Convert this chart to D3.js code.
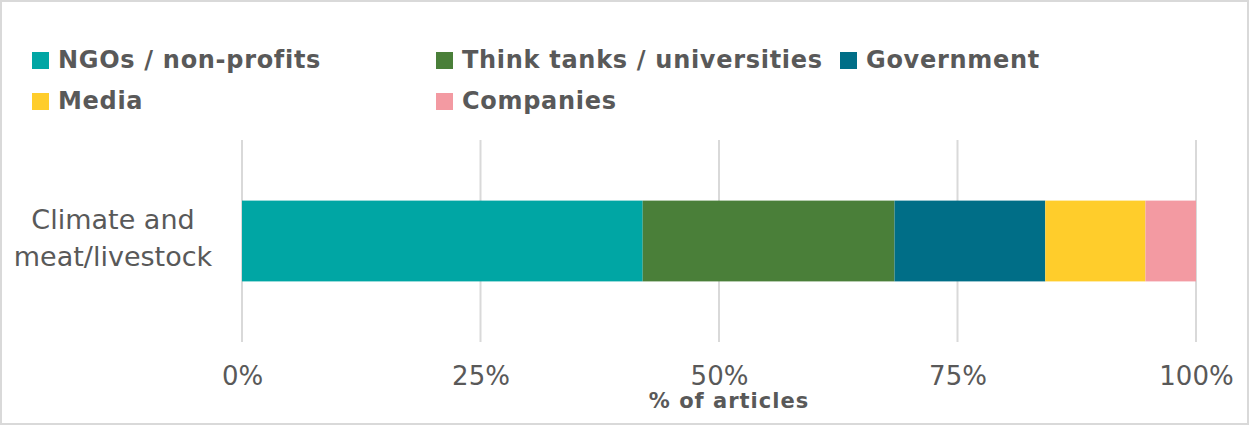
<!DOCTYPE html>
<html>
<head>
<meta charset="utf-8">
<script src="https://cdn.jsdelivr.net/npm/d3@7"></script>
<style>
  body { margin: 0; background: #fff; }
  text { font-family: "DejaVu Sans", "Liberation Sans", Arial, sans-serif; fill: #595959; }
</style>
</head>
<body>
<div id="chart"></div>
<script>
// data
var categories = ["Climate and meat/livestock"];
var seriesNames = ["NGOs / non-profits", "Think tanks / universities", "Government", "Media", "Companies"];
var seriesValues = [42.0, 26.4, 15.8, 10.5, 5.3];
var seriesColors = ["#00a6a4", "#4a7f39", "#006e87", "#ffcd2b", "#f39aa2"];
var tickValues = [0, 25, 50, 75, 100];

var svgWidth = 1250;
var svgHeight = 425;

var svg = d3.select("#chart")
  .append("svg")
  .attr("width", svgWidth)
  .attr("height", svgHeight);

// outer border
svg.append("rect")
  .attr("x", 1).attr("y", 1)
  .attr("width", svgWidth - 3).attr("height", svgHeight - 2)
  .attr("fill", "none")
  .attr("stroke", "#d9d9d9")
  .attr("stroke-width", 2);

var margin = { left: 242, right: 54, top: 140, bottom: 83 };
var width = svgWidth - margin.left - margin.right;
var height = svgHeight - margin.top - margin.bottom;

var chartGroup = svg.append("g")
  .attr("transform", `translate(${margin.left}, ${margin.top})`);

var xScale = d3.scaleLinear().domain([0, 100]).range([0, width]);
var yScale = d3.scaleBand().domain(categories).range([0, height]).paddingInner(0.6).paddingOuter(0.3);

// gridlines
chartGroup.selectAll("line.grid")
  .data(tickValues)
  .enter()
  .append("line")
  .attr("class", "grid")
  .attr("x1", d => xScale(d))
  .attr("x2", d => xScale(d))
  .attr("y1", 0)
  .attr("y2", height)
  .attr("stroke", "#d9d9d9")
  .attr("stroke-width", 2);

// stacked segments
var stackData = [];
var running = 0;
seriesValues.forEach(function (v, i) {
  stackData.push({ name: seriesNames[i], x0: running, x1: running + v, color: seriesColors[i] });
  running += v;
});

chartGroup.selectAll("rect.seg")
  .data(stackData)
  .enter()
  .append("rect")
  .attr("class", "seg")
  .attr("x", d => xScale(d.x0))
  .attr("width", d => xScale(d.x1) - xScale(d.x0))
  .attr("y", yScale(categories[0]))
  .attr("height", yScale.bandwidth())
  .attr("fill", d => d.color);

// x axis tick labels
var bottomAxis = d3.axisBottom(xScale)
  .tickValues(tickValues)
  .tickSize(0)
  .tickPadding(25)
  .tickFormat(d => d + "%");

var xAxis = chartGroup.append("g")
  .attr("transform", `translate(0, ${height})`)
  .call(bottomAxis);
xAxis.select(".domain").remove();
xAxis.selectAll("text")
  .style("font-family", "'DejaVu Sans', sans-serif")
  .style("font-size", "26px")
  .attr("fill", "#595959");

// axis title
chartGroup.append("text")
  .attr("x", width / 2 + 10)
  .attr("y", height + 66)
  .attr("text-anchor", "middle")
  .style("font-size", "21px")
  .style("font-weight", "bold")
  .style("letter-spacing", "1px")
  .text("% of articles");

// category label, two lines
var catLabel = svg.append("text")
  .attr("text-anchor", "middle")
  .style("font-size", "27px");
catLabel.append("tspan").attr("x", 113).attr("y", 229).text("Climate and");
catLabel.append("tspan").attr("x", 113).attr("y", 266).text("meat/livestock");

// legend
var legendPos = [
  { x: 32, y: 52 },
  { x: 436, y: 52 },
  { x: 840, y: 52 },
  { x: 32, y: 93 },
  { x: 436, y: 93 }
];

var legend = svg.selectAll("g.legend")
  .data(seriesNames)
  .enter()
  .append("g")
  .attr("class", "legend")
  .attr("transform", (d, i) => `translate(${legendPos[i].x}, ${legendPos[i].y})`);

legend.append("rect")
  .attr("width", 17)
  .attr("height", 17)
  .attr("fill", (d, i) => seriesColors[i]);

legend.append("text")
  .attr("x", 26)
  .attr("y", 16)
  .style("font-size", "24px")
  .style("font-weight", "bold")
  .style("letter-spacing", "0.7px")
  .text(d => d);
</script>
</body>
</html>
